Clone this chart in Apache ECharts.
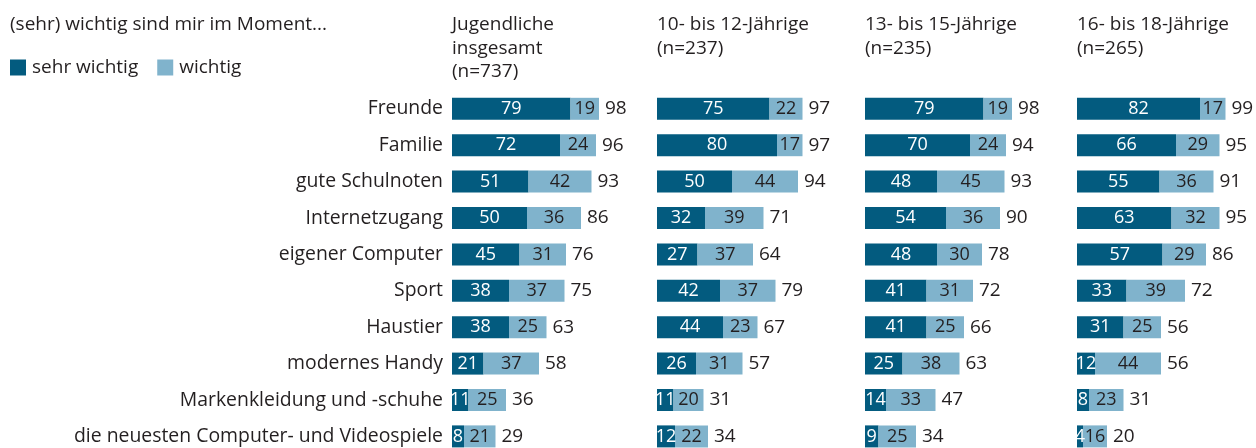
<!DOCTYPE html>
<html>
<head>
<meta charset="utf-8">
<script src="https://cdn.jsdelivr.net/npm/echarts@6/dist/echarts.min.js"></script>
<style>
  html, body { margin: 0; padding: 0; background: #fff; }
  #main { width: 1256px; height: 448px; }
</style>
</head>
<body>
<div id="main"></div>
<script>
// Kategorien (von oben nach unten)
var categories = ['Freunde', 'Familie', 'gute Schulnoten', 'Internetzugang', 'eigener Computer',
  'Sport', 'Haustier', 'modernes Handy', 'Markenkleidung und -schuhe',
  'die neuesten Computer- und Videospiele'];

var panelTitles = ['Jugendliche\ninsgesamt\n(n=737)', '10- bis 12-Jährige\n(n=237)',
  '13- bis 15-Jährige\n(n=235)', '16- bis 18-Jährige\n(n=265)'];

// Jugendliche insgesamt
var sehr1 = [79, 72, 51, 50, 45, 38, 38, 21, 11, 8];
var wichtig1 = [19, 24, 42, 36, 31, 37, 25, 37, 25, 21];
var total1 = [98, 96, 93, 86, 76, 75, 63, 58, 36, 29];
// 10- bis 12-Jährige
var sehr2 = [75, 80, 50, 32, 27, 42, 44, 26, 11, 12];
var wichtig2 = [22, 17, 44, 39, 37, 37, 23, 31, 20, 22];
var total2 = [97, 97, 94, 71, 64, 79, 67, 57, 31, 34];
// 13- bis 15-Jährige
var sehr3 = [79, 70, 48, 54, 48, 41, 41, 25, 14, 9];
var wichtig3 = [19, 24, 45, 36, 30, 31, 25, 38, 33, 25];
var total3 = [98, 94, 93, 90, 78, 72, 66, 63, 47, 34];
// 16- bis 18-Jährige
var sehr4 = [82, 66, 55, 63, 57, 33, 31, 12, 8, 4];
var wichtig4 = [17, 29, 36, 32, 29, 39, 25, 44, 23, 16];
var total4 = [99, 95, 91, 95, 86, 72, 56, 56, 31, 20];

var sehrAll = [sehr1, sehr2, sehr3, sehr4];
var wichtigAll = [wichtig1, wichtig2, wichtig3, wichtig4];
var totalAll = [total1, total2, total3, total4];

var dark = '#035b7f';
var light = '#80b3cc';
var textColor = '#231f20';
var font = 'Open Sans';

var panelLeft = [452, 657, 865, 1077];

var chart = echarts.init(document.getElementById('main'));

var grids = [], xAxes = [], yAxes = [], series = [], titles = [];

titles.push({
  text: '(sehr) wichtig sind mir im Moment...',
  left: 10, top: 13, padding: 0,
  textStyle: { fontFamily: font, fontSize: 19, fontWeight: 'normal', color: textColor, lineHeight: 23.5 }
});

for (var i = 0; i < 4; i++) {
  // Raster ragt unten über den Rand hinaus (letzte Zeile ist abgeschnitten)
  grids.push({ left: panelLeft[i], width: 150, top: 90.6, height: 364, outerBoundsMode: 'none' });
  xAxes.push({ gridIndex: i, type: 'value', min: 0, max: 100, show: false });
  yAxes.push({
    gridIndex: i, type: 'category', data: categories, inverse: true,
    axisLine: { show: false }, axisTick: { show: false }, splitLine: { show: false },
    axisLabel: {
      show: i === 0, margin: 9, fontFamily: font, fontSize: 19.4, color: textColor
    }
  });
  titles.push({
    text: panelTitles[i],
    left: panelLeft[i], top: 13, padding: 0,
    textStyle: { fontFamily: font, fontSize: 19, fontWeight: 'normal', color: textColor, lineHeight: 23.5 }
  });
  series.push({
    name: 'sehr wichtig', type: 'bar', stack: 's' + i, xAxisIndex: i, yAxisIndex: i,
    data: sehrAll[i], barWidth: 22, itemStyle: { color: dark },
    label: { show: true, position: 'inside', color: '#fff', fontFamily: font, fontSize: 18 }
  });
  series.push({
    name: 'wichtig', type: 'bar', stack: 's' + i, xAxisIndex: i, yAxisIndex: i,
    data: wichtigAll[i], barWidth: 22, itemStyle: { color: light },
    label: { show: true, position: 'inside', color: textColor, fontFamily: font, fontSize: 18 }
  });
  (function (tot) {
    series.push({
      name: 'gesamt', type: 'bar', stack: 's' + i, xAxisIndex: i, yAxisIndex: i,
      data: tot.map(function () { return 0; }), barWidth: 22,
      itemStyle: { color: 'transparent' },
      label: {
        show: true, position: 'right', distance: 6, color: textColor, fontFamily: font, fontSize: 19,
        formatter: function (p) { return tot[p.dataIndex]; }
      }
    });
  })(totalAll[i]);
}

chart.setOption({
  animation: false,
  title: titles,
  legend: {
    data: ['sehr wichtig', 'wichtig'],
    left: 10, top: 58, padding: 0,
    itemWidth: 16, itemHeight: 16, itemGap: 19, icon: 'rect',
    textStyle: { fontFamily: font, fontSize: 19, color: textColor, padding: [0, 0, 0, 1] }
  },
  grid: grids,
  xAxis: xAxes,
  yAxis: yAxes,
  series: series
});
</script>
</body>
</html>
